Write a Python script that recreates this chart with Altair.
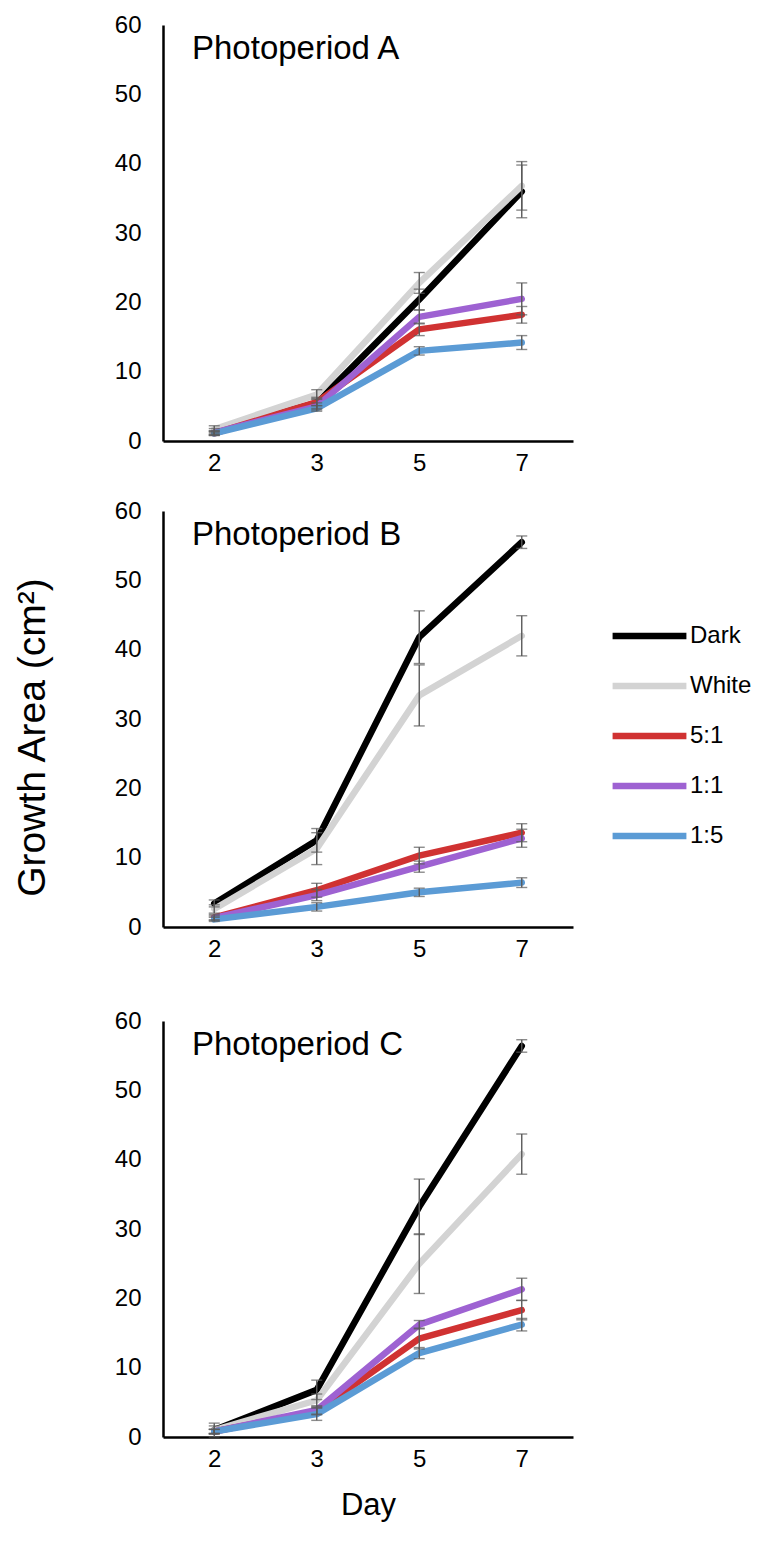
import altair as alt
import pandas as pd

DAYS = ["2", "3", "5", "7"]
SERIES = ["Dark", "White", "5:1", "1:1", "1:5"]
COLORS = ["#000000", "#d3d3d3", "#d03232", "#9e62d2", "#5b9bd5"]
WIDTHS = [6.5, 6.5, 6.5, 5.0, 5.0]
PANELS = ["Photoperiod A", "Photoperiod B", "Photoperiod C"]

# mean growth area per panel, series order as SERIES
MEAN_A = {
    "Dark": [1.4, 5.5, 20.4, 36.0],
    "White": [1.7, 6.7, 22.8, 36.8],
    "5:1": [1.1, 5.6, 16.1, 18.2],
    "1:1": [1.2, 5.0, 17.9, 20.5],
    "1:5": [1.1, 4.7, 13.0, 14.2],
}
ERR_A = {
    "Dark": [0.4, 0.8, 1.5, 3.8],
    "White": [0.5, 0.7, 1.5, 3.5],
    "5:1": [0.3, 0.5, 0.9, 1.2],
    "1:1": [0.3, 0.5, 1.0, 2.3],
    "1:5": [0.3, 0.4, 0.6, 1.0],
}
MEAN_B = {
    "Dark": [3.4, 12.5, 41.8, 55.5],
    "White": [2.6, 11.3, 33.4, 42.0],
    "5:1": [1.4, 5.3, 10.3, 13.6],
    "1:1": [1.3, 4.6, 8.7, 12.8],
    "1:5": [1.1, 2.9, 5.0, 6.4],
}
ERR_B = {
    "Dark": [0.5, 1.7, 3.8, 0.9],
    "White": [0.6, 2.3, 4.4, 2.9],
    "5:1": [0.4, 1.0, 1.2, 1.3],
    "1:1": [0.3, 0.8, 0.8, 1.3],
    "1:5": [0.3, 0.6, 0.6, 0.7],
}
MEAN_C = {
    "Dark": [1.0, 6.8, 33.2, 56.4],
    "White": [1.0, 5.3, 25.0, 40.8],
    "5:1": [0.8, 3.7, 14.2, 18.3],
    "1:1": [0.8, 3.9, 16.2, 21.3],
    "1:5": [0.8, 3.3, 12.1, 16.2],
}
ERR_C = {
    "Dark": [1.0, 1.4, 4.0, 0.9],
    "White": [0.6, 0.9, 4.3, 2.9],
    "5:1": [0.3, 0.5, 1.5, 1.4],
    "1:1": [0.3, 0.6, 0.6, 1.6],
    "1:5": [0.3, 0.9, 0.8, 0.9],
}

FONT = "Liberation Sans"


def frame(means, errs):
    rows = []
    for s in SERIES:
        for d, m, e in zip(DAYS, means[s], errs[s]):
            rows.append({"series": s, "day": d, "mean": m, "lo": m - e, "hi": m + e})
    return pd.DataFrame(rows)


def make_legend():
    return alt.Legend(orient="none", legendX=446, legendY=596, title=None,
                      symbolType="stroke", symbolSize=5450,
                      clipHeight=30, rowPadding=20, labelFontSize=24,
                      labelColor="black", labelOffset=0, padding=0)


def panel(name, means, errs, show_ytitle, xtitle):
    df = frame(means, errs)
    base = alt.Chart(df)
    x = alt.X("day:O", sort=DAYS, scale=alt.Scale(type="point", padding=0.5),
              axis=alt.Axis(labelAngle=0, ticks=False, domainColor="black", domainWidth=2.5,
                            labelFontSize=24, labelPadding=10, labelColor="black",
                            title=xtitle, titleFontSize=31, titleFontWeight="normal",
                            titleColor="black", titlePadding=19))
    y_axis = alt.Axis(values=[0, 10, 20, 30, 40, 50, 60], grid=False, ticks=False,
                      domainColor="black", domainWidth=2.5, labelFontSize=24,
                      labelPadding=22, labelColor="black",
                      title="Growth Area (cm²)", titleFontSize=39,
                      titleFontWeight="normal", titleColor="black",
                      titleOpacity=1 if show_ytitle else 0, titlePadding=62,
                      titleY=226)
    y = alt.Y("mean:Q", scale=alt.Scale(domain=[0, 60], nice=False), axis=y_axis)
    color = alt.Color("series:N", scale=alt.Scale(domain=SERIES, range=COLORS),
                      sort=SERIES, legend=make_legend())
    width = alt.StrokeWidth("series:N", scale=alt.Scale(domain=SERIES, range=WIDTHS),
                            sort=SERIES, legend=make_legend())
    lines = base.mark_line(strokeCap="round", strokeJoin="round").encode(
        x=x, y=y, color=color, strokeWidth=width,
    )
    ecol = "#5a5a5a"
    rule = base.mark_rule(color=ecol, strokeWidth=1.4).encode(x=x, y="lo:Q", y2="hi:Q")
    cap_lo = base.mark_tick(color=ecol, size=11, thickness=1.4, orient="horizontal").encode(x=x, y="lo:Q")
    cap_hi = base.mark_tick(color=ecol, size=11, thickness=1.4, orient="horizontal").encode(x=x, y="hi:Q")
    title = alt.Chart(pd.DataFrame({"t": [name]})).mark_text(
        align="left", baseline="middle", fontSize=33, font=FONT, color="black"
    ).encode(x=alt.value(29), y=alt.value(24), text="t:N")
    return alt.layer(lines, rule, cap_lo, cap_hi, title).properties(width=410, height=416)


a = panel(PANELS[0], MEAN_A, ERR_A, False, None)
b = panel(PANELS[1], MEAN_B, ERR_B, True, None)
c = panel(PANELS[2], MEAN_C, ERR_C, False, "Day")

chart = alt.vconcat(alt.vconcat(a, b, spacing=24), c, spacing=48).configure(
    font=FONT, padding={"left": 5, "top": 5, "right": 0, "bottom": 5}
).configure_view(stroke=None)

chart.save("out.html", embed_options={"renderer": "svg", "actions": False})
